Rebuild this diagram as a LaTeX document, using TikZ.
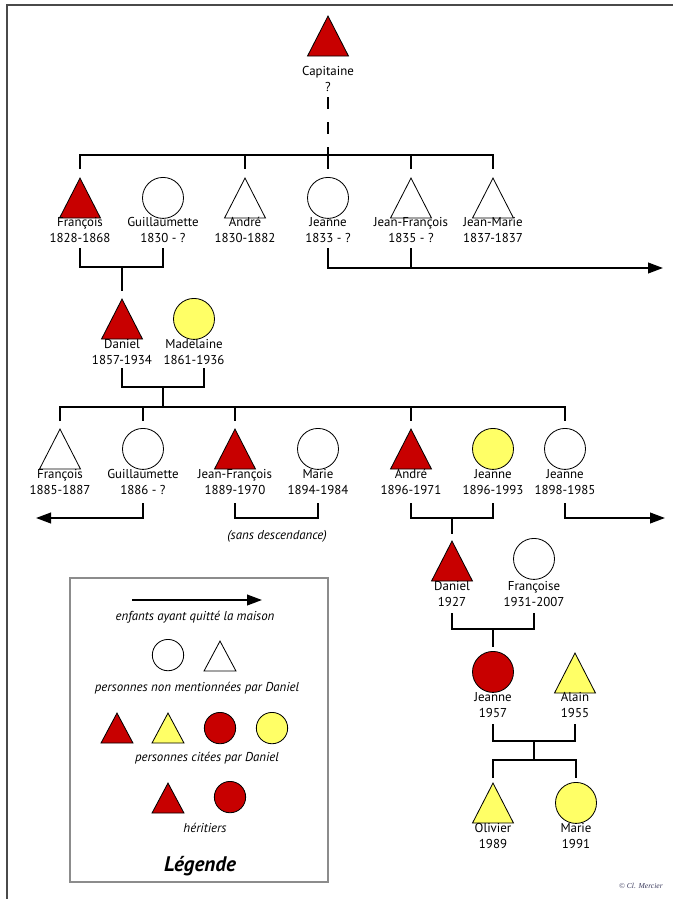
\documentclass[tikz,border=0pt]{standalone}
\usepackage{fontspec}
\setmainfont{PT Sans}
\newfontfamily\creditfont{Liberation Serif}
\usetikzlibrary{shapes.geometric}
\usetikzlibrary{arrows.meta}

\definecolor{heir}{HTML}{C80000}
\definecolor{cited}{HTML}{FFFF66}
\definecolor{rim}{HTML}{4A4A4A}
\definecolor{legendrim}{HTML}{8C8C8C}
\definecolor{inkblue}{HTML}{3A3A5C}

\tikzset{
  man/.style={isosceles triangle, shape border rotate=90, isosceles triangle stretches,
    minimum width=1.23cm, minimum height=1.2cm, inner sep=0pt, draw, line width=0.7pt,
    fill=#1, anchor=apex},
  man/.default=white,
  woman/.style={circle, draw, line width=0.7pt, minimum size=1.23cm, inner sep=0pt,
    fill=#1, anchor=north},
  woman/.default=white,
  smallman/.style={minimum width=0.96cm, minimum height=0.9cm},
  smallwoman/.style={minimum size=0.94cm},
  who/.style={align=center, inner sep=0pt, font=\fontsize{11}{14}\selectfont},
  note/.style={inner sep=0pt, font=\fontsize{11}{13}\selectfont\itshape},
  link/.style={line width=1.6pt},
  leave/.style={link, -{Triangle[length=0.45cm,width=0.32cm]}},
}

\begin{document}
\begin{tikzpicture}[x=0.03cm, y=-0.03cm]
  \useasboundingbox (0,0) rectangle (673,899);
  \draw[rim, line width=1.5pt] (7,899) |- (673,5);

  % Capitaine
  \node[man=heir] (cap) at (328,15) {};
  \node[who] (capt) at (328,79) {Capitaine\\?};

  % generation 1
  \node[man=heir] (f1) at (80,177) {};
  \node[woman] (g1) at (163,177) {};
  \node[man] (a1) at (245,177) {};
  \node[woman] (j1) at (328,177) {};
  \node[man] (jf1) at (411,177) {};
  \node[man] (jm1) at (493,177) {};
  \node[who] (f1t) at (80,230) {François\\1828-1868};
  \node[who] (g1t) at (163,230) {Guillaumette\\1830 - ?};
  \node[who] (a1t) at (245,230) {André\\1830-1882};
  \node[who] (j1t) at (328,230) {Jeanne\\1833 - ?};
  \node[who] (jf1t) at (411,230) {Jean-François\\1835 - ?};
  \node[who] (jm1t) at (493,230) {Jean-Marie\\1837-1837};

  \draw[link, dash pattern=on 0.36cm off 0.39cm] (cap |- 0,97) -- (cap |- 0,155);
  \draw[link] (f1 |- 0,169) -- (f1 |- 0,155) -- (jm1 |- 0,155) -- (jm1 |- 0,169);
  \foreach \n in {a1,j1,jf1}
    \draw[link] (\n |- 0,155) -- (\n |- 0,169);

  \coordinate (out1) at (663,268);
  \draw[link] (f1 |- 0,248) -- (f1 |- 0,267) -| (g1 |- 0,248);
  \draw[leave] (j1 |- 0,248) -- (j1 |- 0,268) -- (out1);
  \draw[link] (jf1 |- 0,248) -- (jf1 |- 0,268);

  % generation 2
  \node[man=heir] (d2) at (122,298) {};
  \node[woman=cited] (m2) at (194,298) {};
  \node[who] (d2t) at (122,352) {Daniel\\1857-1934};
  \node[who] (m2t) at (194,352) {Madelaine\\1861-1936};

  \draw[link] (d2 |- 0,267) -- (d2 |- 0,291);
  \draw[link] (d2 |- 0,368) -- (d2 |- 0,387) -| ([xshift=0.3cm]m2 |- 0,368);
  \coordinate (k2) at (163,387);
  \draw[link] (k2) -- (k2 |- 0,407);

  % generation 3
  \node[man] (f3) at (60,428) {};
  \node[woman] (g3) at (143,428) {};
  \node[man=heir] (jf3) at (235,428) {};
  \node[woman] (ma3) at (318,428) {};
  \node[man=heir] (an3) at (411,428) {};
  \node[woman=cited] (je3) at (493,428) {};
  \node[woman] (jn3) at (565,428) {};
  \node[who] (f3t) at (60,482) {François\\1885-1887};
  \node[who] (g3t) at (143,482) {Guillaumette\\1886 - ?};
  \node[who] (jf3t) at (235,482) {Jean-François\\1889-1970};
  \node[who] (ma3t) at (318,482) {Marie\\1894-1984};
  \node[who] (an3t) at (411,482) {André\\1896-1971};
  \node[who] (je3t) at (493,482) {Jeanne\\1896-1993};
  \node[who] (jn3t) at (565,482) {Jeanne\\1898-1985};

  \draw[link] (f3 |- 0,421) -- (f3 |- 0,407) -- (jn3 |- 0,407) -- (jn3 |- 0,421);
  \foreach \n in {g3,jf3,an3}
    \draw[link] (\n |- 0,407) -- (\n |- 0,421);

  \coordinate (outL) at (36,518);
  \coordinate (outR) at (665,518);
  \draw[leave] (g3 |- 0,503) -- (g3 |- 0,518) -- (outL);
  \draw[link] (jf3 |- 0,503) -- (jf3 |- 0,518) -| (ma3 |- 0,503);
  \node[note] (sd) at (277,536) {(sans descendance)};
  \draw[link] (an3 |- 0,503) -- (an3 |- 0,518) -| (je3 |- 0,503);
  \draw[leave] (jn3 |- 0,503) -- (jn3 |- 0,518) -- (outR);

  % generation 4
  \node[man=heir] (d4) at (452,540) {};
  \node[woman] (fc4) at (534,538) {};
  \node[who] (d4t) at (452,594) {Daniel\\1927};
  \node[who] (fc4t) at (534,594) {Françoise\\1931-2007};

  \draw[link] (d4 |- 0,518) -- (d4 |- 0,534);
  \draw[link] (d4 |- 0,613) -- (d4 |- 0,629) -| (fc4 |- 0,613);

  % generation 5
  \node[woman=heir] (je5) at (493,651) {};
  \node[man=cited] (al5) at (575,652) {};
  \node[who] (je5t) at (493,705) {Jeanne\\1957};
  \node[who] (al5t) at (575,705) {Alain\\1955};

  \draw[link] (je5 |- 0,629) -- (je5 |- 0,647);
  \draw[link] (je5 |- 0,724) -- (je5 |- 0,741) -| (al5 |- 0,724);
  \coordinate (k5) at (534,741);
  \draw[link] (k5) -- (k5 |- 0,760);

  % generation 6
  \node[man=cited] (ol6) at (493,782) {};
  \node[woman=cited] (ma6) at (576,782) {};
  \node[who] (ol6t) at (493,836) {Olivier\\1989};
  \node[who] (ma6t) at (576,836) {Marie\\1991};

  \draw[link] (ol6 |- 0,778) -- (ol6 |- 0,760) -- (ma6 |- 0,760) -- (ma6 |- 0,778);

  % legend
  \draw[legendrim, line width=0.9pt] (70,578) rectangle (328,882);
  \coordinate (ka) at (132,600);
  \coordinate (kb) at (262,600);
  \draw[leave] (ka) -- (kb);
  \node[note] (n1) at (195,617) {enfants ayant quitté la maison};
  \node[woman, smallwoman] (lw1) at (168,639) {};
  \node[man, smallman] (lm1) at (220,640) {};
  \node[note] (n2) at (197,688) {personnes non mentionnées par Daniel};
  \node[man=heir, smallman] (lm2) at (117,712) {};
  \node[man=cited, smallman] (lm3) at (168,712) {};
  \node[woman=heir, smallwoman] (lw2) at (220,712) {};
  \node[woman=cited, smallwoman] (lw3) at (272,712) {};
  \node[note] (n3) at (207,758) {personnes citées par Daniel};
  \node[man=heir, smallman] (lm4) at (168,782) {};
  \node[woman=heir, smallwoman] (lw4) at (230,781) {};
  \node[note] (n4) at (205,828) {héritiers};
  \node[inner sep=0pt, font=\fontsize{18}{18}\selectfont\bfseries\itshape] (leg) at (200,866) {Légende};

  \node[inner sep=0pt, text=inkblue, font=\creditfont\fontsize{6.5}{7}\selectfont\itshape] (cr) at (641,886) {© Cl. Mercier};
\end{tikzpicture}
\end{document}
